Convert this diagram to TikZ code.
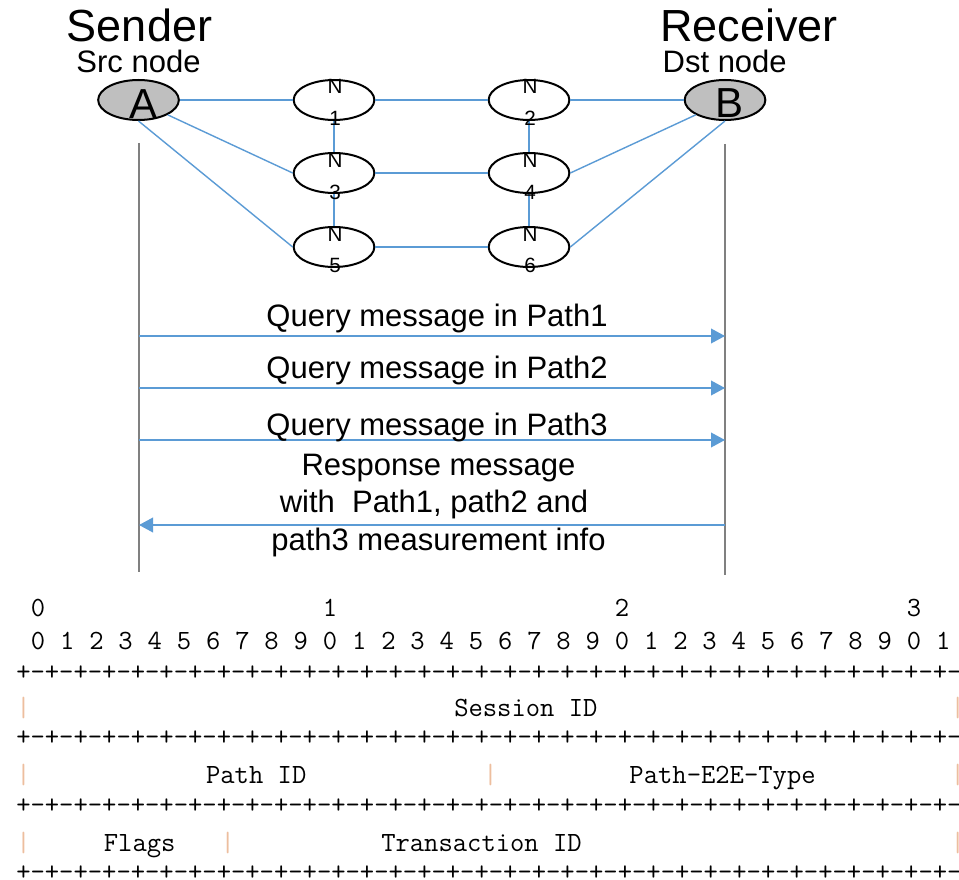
\documentclass[tikz,border=0pt]{standalone}
\usepackage{fontspec}
\setmainfont{Liberation Sans}
\usetikzlibrary{arrows.meta,shapes.geometric}
\definecolor{linkblue}{HTML}{5B9BD5}
\definecolor{lifegray}{HTML}{808080}
\definecolor{nodegray}{HTML}{BFBFBF}
\definecolor{barpeach}{HTML}{EDBE9E}
\begin{document}
\begin{tikzpicture}[x=0.75pt,y=-0.75pt,
  ell/.style={ellipse,draw=black,line width=1.5pt,minimum width=60.5pt,minimum height=30pt,inner sep=0pt},
  endpt/.style={ell,fill=nodegray},
  relay/.style={ell,fill=white},
  link/.style={draw=linkblue,line width=1.05pt},
  life/.style={draw=lifegray,line width=1.5pt},
  msg/.style={draw=linkblue,line width=1.2pt,-{Triangle[length=10.5pt,width=11pt]}},
  big/.style={font=\fontsize{33.75}{40}\selectfont,anchor=base,inner sep=0pt},
  mid/.style={font=\fontsize{23.25}{28}\selectfont,anchor=base,inner sep=0pt},
  letter/.style={font=\fontsize{31.5}{36}\selectfont,anchor=base,inner sep=0pt},
  small/.style={font=\fontsize{15.5}{18}\selectfont,anchor=base,inner sep=0pt},
  tt/.style={font=\ttfamily\fontsize{20.857}{24}\selectfont,anchor=base west,inner sep=0pt},
  bar/.style={tt,text=barpeach}]

\useasboundingbox (0,0) rectangle (959,880);
\fill[white] (0,0) rectangle (959,880);

% headings
\node[big] (sender) at (139.5,42) {Sender};
\node[big] (receiver) at (749,42) {Receiver};
\node[mid] (src) at (138.5,73) {Src node};
\node[mid] (dst) at (724.7,72.5) {Dst node};

% network nodes
\node[endpt] (A) at (138.5,100) {};
\node[endpt] (B) at (725,100) {};
\node[relay] (N1) at (334,100) {};
\node[relay] (N3) at (334,173) {};
\node[relay] (N5) at (334,247) {};
\node[relay] (N2) at (529,100) {};
\node[relay] (N4) at (529,173) {};
\node[relay] (N6) at (529,247) {};

% links
\draw[link] (A.east) -- (N1.west);
\draw[link] (A.south east) -- (N3.west);
\draw[link] (A.south) -- (N5.west);
\draw[link] (N1.east) -- (N2.west);
\draw[link] (N3.east) -- (N4.west);
\draw[link] (N5.east) -- (N6.west);
\draw[link] (N2.east) -- (B.west);
\draw[link] (N4.east) -- (B.south west);
\draw[link] (N6.east) -- (B.south);
\draw[link] (N1.south) -- (N3.north);
\draw[link] (N3.south) -- (N5.north);
\draw[link] (N2.south) -- (N4.north);
\draw[link] (N4.south) -- (N6.north);

% node labels
\node[letter] (Alab) at (143.5,119) {A};
\node[letter] (Blab) at (729,117.5) {B};
\node[small] (N1t) at (335,93.5) {N};
\node[small] (N1b) at (335,125.5) {1};
\node[small] (N3t) at (335,168) {N};
\node[small] (N3b) at (335,200) {3};
\node[small] (N5t) at (335,242) {N};
\node[small] (N5b) at (335,273) {5};
\node[small] (N2t) at (530,93.5) {N};
\node[small] (N2b) at (530,125.5) {2};
\node[small] (N4t) at (530,168) {N};
\node[small] (N4b) at (530,200) {4};
\node[small] (N6t) at (530,242) {N};
\node[small] (N6b) at (530,273) {6};

% lifelines
\coordinate (Atop) at (139,143);
\coordinate (Abot) at (139,572);
\coordinate (Btop) at (725,144);
\coordinate (Bbot) at (725,575);
\draw[life] (Atop) -- (Abot);
\draw[life] (Btop) -- (Bbot);

% messages
\coordinate (a1) at (139,336);  \coordinate (b1) at (725,336);
\coordinate (a2) at (139,388);  \coordinate (b2) at (725,388);
\coordinate (a3) at (139,440);  \coordinate (b3) at (725,440);
\coordinate (a4) at (139,525);  \coordinate (b4) at (725,525);
\draw[msg] (a1) -- (b1);
\draw[msg] (a2) -- (b2);
\draw[msg] (a3) -- (b3);
\draw[msg] (b4) -- (a4);
\node[mid] (q1) at (437,326) {Query message in Path1};
\node[mid] (q2) at (437,378) {Query message in Path2};
\node[mid] (q3) at (437,435) {Query message in Path3};
\node[mid] (r1) at (438.5,475) {Response message};
\node[mid] (r2) at (434,512.7) {with\ \ Path1, path2 and};
\node[mid] (r3) at (438.5,550) {path3 measurement info};

% packet format
\node[tt] (d0) at (30.6,616) {0};
\node[tt] (d1) at (322.6,616) {1};
\node[tt] (d2) at (614.6,616) {2};
\node[tt] (d3) at (906.6,616) {3};
\foreach \k in {0,...,31}{
  \pgfmathtruncatemacro\dig{mod(\k,10)}
  \node[tt] (bit\k) at ({30.6+\k*29.2},649) {\dig};
}
\node[tt] (sep1) at (16,680) {+-+-+-+-+-+-+-+-+-+-+-+-+-+-+-+-+-+-+-+-+-+-+-+-+-+-+-+-+-+-+-+-+-+-+-+-+-+-+-+-+-+-+-+-+-+-+-+-+-+-+-+-+-+-+-+-+-+-+-+-+-+-+-+};
\node[bar] (s0) at (16,716.7) {|};
\node[tt] (sid) at (454,716.7) {Session ID};
\node[bar] (s1) at (950.4,716.7) {|};
\node[tt] (sep2) at (16,745) {+-+-+-+-+-+-+-+-+-+-+-+-+-+-+-+-+-+-+-+-+-+-+-+-+-+-+-+-+-+-+-+-+-+-+-+-+-+-+-+-+-+-+-+-+-+-+-+-+-+-+-+-+-+-+-+-+-+-+-+-+-+-+-+};
\node[bar] (p0) at (16,783) {|};
\node[tt] (pid) at (205.8,783) {Path ID};
\node[bar] (p1) at (483.2,783) {|};
\node[tt] (ptype) at (629.2,783) {Path-E2E-Type};
\node[bar] (p2) at (950.4,783) {|};
\node[tt] (sep3) at (16,813) {+-+-+-+-+-+-+-+-+-+-+-+-+-+-+-+-+-+-+-+-+-+-+-+-+-+-+-+-+-+-+-+-+-+-+-+-+-+-+-+-+-+-+-+-+-+-+-+-+-+-+-+-+-+-+-+-+-+-+-+-+-+-+-+};
\node[bar] (f0) at (16,851.5) {|};
\node[tt] (flags) at (103.6,851.5) {Flags};
\node[bar] (f1) at (220.4,851.5) {|};
\node[tt] (tid) at (381,851.5) {Transaction ID};
\node[bar] (f2) at (950.4,851.5) {|};
\node[tt] (sep4) at (16,880) {+-+-+-+-+-+-+-+-+-+-+-+-+-+-+-+-+-+-+-+-+-+-+-+-+-+-+-+-+-+-+-+-+-+-+-+-+-+-+-+-+-+-+-+-+-+-+-+-+-+-+-+-+-+-+-+-+-+-+-+-+-+-+-+};
\end{tikzpicture}
\end{document}
